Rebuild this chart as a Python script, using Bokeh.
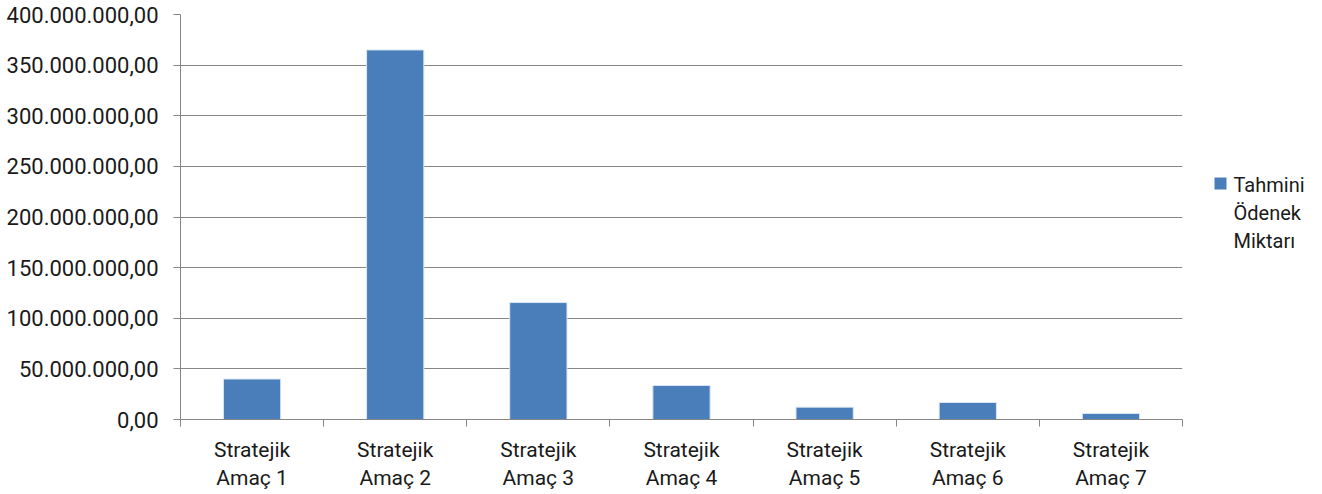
from bokeh.plotting import figure
from bokeh.models import Range1d, FixedTicker, ColumnDataSource
from bokeh.core.properties import value
from bokeh.layouts import row
from bokeh.embed import file_html
from bokeh.resources import INLINE

categories = ["Stratejik\nAmaç 1", "Stratejik\nAmaç 2", "Stratejik\nAmaç 3", "Stratejik\nAmaç 4",
              "Stratejik\nAmaç 5", "Stratejik\nAmaç 6", "Stratejik\nAmaç 7"]
values = [40_000_000, 365_000_000, 115_500_000, 33_600_000, 12_200_000, 16_800_000, 5_900_000]
y_ticks = [0, 50_000_000, 100_000_000, 150_000_000, 200_000_000, 250_000_000,
           300_000_000, 350_000_000, 400_000_000]
y_tick_labels = ["0,00", "50.000.000,00", "100.000.000,00", "150.000.000,00", "200.000.000,00",
                 "250.000.000,00", "300.000.000,00", "350.000.000,00", "400.000.000,00"]
legend_lines = ["Tahmini", "Ödenek", "Miktarı"]

FONT = "Roboto"
GRID = "#868686"
BAR = "#4A7EBB"
TXT = "#1a1a1a"

positions = [i + 0.5 for i in range(len(categories))]
src = ColumnDataSource(dict(x=positions, top=values))

p = figure(frame_width=1002, frame_height=405, output_backend="svg", toolbar_location=None,
           x_range=Range1d(0, len(categories)), y_range=Range1d(0, 400_000_000),
           min_border_left=180, min_border_right=2, min_border_top=14, min_border_bottom=75)
p.outline_line_color = None
p.background_fill_color = "white"
p.border_fill_color = "white"

r = p.vbar(x="x", top="top", width=0.4, bottom=0, source=src,
           fill_color=BAR, line_color="#dce6f2", line_width=1)

# x axis: labels at category centres, tick marks between categories
p.xaxis.ticker = FixedTicker(ticks=positions, minor_ticks=list(range(len(categories) + 1)))
p.xaxis.major_label_overrides = {pos: cat for pos, cat in zip(positions, categories)}
p.xaxis.major_tick_out = 0
p.xaxis.major_tick_in = 0
p.xaxis.minor_tick_out = 7
p.xaxis.minor_tick_in = 0
p.xaxis.minor_tick_line_color = GRID
p.xaxis.axis_line_color = GRID
p.xaxis.major_label_text_font = FONT
p.xaxis.major_label_text_font_size = "21px"
p.xaxis.major_label_text_color = TXT
p.xaxis.major_label_text_line_height = 1.2
p.xaxis.major_label_standoff = 11
p.xaxis.major_label_orientation = "horizontal"

p.yaxis.ticker = FixedTicker(ticks=y_ticks, minor_ticks=[])
p.yaxis.major_label_overrides = {t: l for t, l in zip(y_ticks, y_tick_labels)}
p.yaxis.major_tick_out = 7
p.yaxis.major_tick_in = 0
p.yaxis.major_tick_line_color = GRID
p.yaxis.axis_line_color = GRID
p.yaxis.minor_tick_line_color = None
p.yaxis.major_label_text_font = FONT
p.yaxis.major_label_text_font_size = "22px"
p.yaxis.major_label_text_color = TXT
p.yaxis.major_label_standoff = 15

p.xgrid.grid_line_color = None
p.ygrid.grid_line_color = GRID
p.ygrid.ticker = FixedTicker(ticks=y_ticks)

# legend panel; its frame is aligned with the main frame (page y 14..419)
lg = figure(width=138, height=494, output_backend="svg", toolbar_location=None,
            x_range=Range1d(1184, 1322), y_range=Range1d(419, 14),
            min_border_left=0, min_border_right=0, min_border_top=14, min_border_bottom=75)
lg.axis.visible = False
lg.grid.visible = False
lg.outline_line_color = None
lg.background_fill_color = "white"
lg.border_fill_color = "white"
lg.rect(x=[1220], y=[183], width=12, height=12, fill_color=BAR, line_color=None)
lg.text(x=[1233, 1233, 1233], y=[184, 212, 240], text=legend_lines,
        text_font=value(FONT), text_font_size="20px", text_color=TXT,
        text_baseline="alphabetic", text_align="left")

open("out.html", "w").write(file_html(row(p, lg, spacing=0), INLINE))
